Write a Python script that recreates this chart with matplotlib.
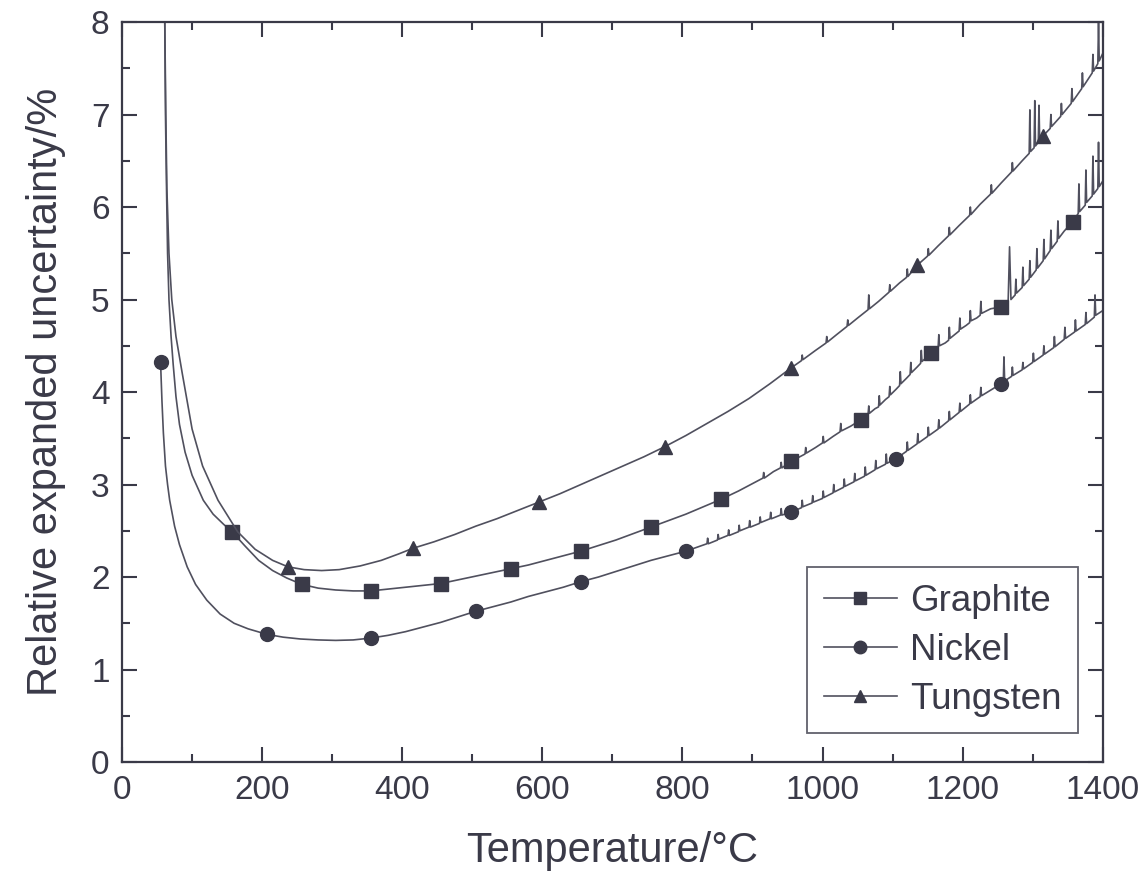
import matplotlib
matplotlib.use("Agg")
import matplotlib.pyplot as plt
from matplotlib.lines import Line2D
from matplotlib.ticker import MultipleLocator

# temperature (degC) and relative expanded uncertainty (%)
graphite_t = [61, 62, 63.5, 65, 67, 70, 73, 77, 82, 90, 100, 116, 130, 145, 157, 175, 195, 215, 235,
              257, 280, 305, 330, 355, 380, 405, 430, 455, 480, 505, 530, 555, 580, 605, 630, 655,
              680, 705, 730, 755, 780, 805, 830, 855, 880, 905, 915, 916, 917, 930, 940, 941, 942,
              955, 965, 975, 976, 977, 990, 1000, 1001, 1002, 1015, 1025, 1026, 1027, 1040, 1055,
              1065, 1066, 1067, 1075, 1080, 1081, 1082, 1090, 1095, 1096, 1097, 1105, 1110, 1111,
              1112, 1120, 1125, 1126, 1127, 1135, 1140, 1141, 1142, 1155, 1165, 1166, 1167, 1175,
              1180, 1181, 1182, 1190, 1195, 1196, 1197, 1205, 1210, 1211, 1212, 1220, 1225, 1226,
              1227, 1235, 1240, 1255, 1265, 1267, 1269, 1275, 1276, 1277, 1285, 1286, 1287, 1295,
              1296, 1297, 1305, 1306, 1307, 1315, 1316, 1317, 1325, 1326, 1327, 1335, 1336, 1337,
              1345, 1357, 1365, 1366, 1367, 1375, 1376, 1377, 1385, 1386, 1387, 1393, 1394, 1395,
              1400]
graphite_u = [8.0, 7.0, 6.2, 5.5, 5.0, 4.6, 4.3, 3.95, 3.65, 3.35, 3.1, 2.83, 2.68, 2.57, 2.49, 2.34,
              2.18, 2.07, 1.99, 1.92, 1.88, 1.86, 1.85, 1.85, 1.87, 1.89, 1.91, 1.93, 1.97, 2.01,
              2.05, 2.09, 2.13, 2.18, 2.23, 2.28, 2.34, 2.40, 2.47, 2.54, 2.61, 2.68, 2.76, 2.84,
              2.93, 3.03, 3.07, 3.13, 3.07, 3.14, 3.18, 3.24, 3.18, 3.25, 3.29, 3.33, 3.40, 3.34,
              3.40, 3.45, 3.52, 3.45, 3.52, 3.57, 3.66, 3.58, 3.63, 3.70, 3.76, 3.85, 3.77, 3.82,
              3.84, 3.96, 3.86, 3.92, 3.95, 4.06, 3.97, 4.03, 4.07, 4.22, 4.09, 4.15, 4.19, 4.32,
              4.21, 4.27, 4.31, 4.45, 4.33, 4.42, 4.48, 4.62, 4.50, 4.53, 4.56, 4.70, 4.58, 4.63,
              4.66, 4.80, 4.68, 4.72, 4.75, 4.88, 4.77, 4.80, 4.83, 4.98, 4.85, 4.88, 4.90, 4.92,
              4.98, 5.57, 5.00, 5.05, 5.22, 5.07, 5.13, 5.35, 5.15, 5.22, 5.42, 5.24, 5.32, 5.55,
              5.34, 5.42, 5.65, 5.44, 5.53, 5.75, 5.55, 5.63, 5.85, 5.66, 5.74, 5.84, 5.93, 6.25,
              5.95, 6.02, 6.40, 6.05, 6.12, 6.55, 6.14, 6.20, 6.70, 6.22, 6.28]
graphite_marks = [157, 257, 355, 455, 555, 655, 755, 855, 955, 1055, 1155, 1255, 1357]

nickel_t = [55, 57, 59, 62, 65, 68, 75, 82, 93, 105, 121, 140, 160, 180, 207, 230, 255, 280, 305,
            330, 355, 380, 405, 430, 455, 480, 505, 530, 555, 580, 605, 630, 655, 680, 705, 730,
            755, 780, 805, 820, 835, 836, 837, 850, 851, 852, 865, 866, 867, 880, 881, 882, 895,
            896, 897, 910, 911, 912, 925, 926, 927, 940, 941, 942, 955, 970, 971, 972, 985, 986,
            987, 1000, 1001, 1002, 1015, 1016, 1017, 1030, 1031, 1032, 1045, 1046, 1047, 1060,
            1061, 1062, 1075, 1076, 1077, 1090, 1091, 1092, 1105, 1120, 1121, 1122, 1135, 1136,
            1137, 1150, 1151, 1152, 1165, 1166, 1167, 1180, 1181, 1182, 1195, 1196, 1197, 1210,
            1211, 1212, 1225, 1226, 1227, 1240, 1255, 1258, 1259, 1260, 1270, 1271, 1272, 1285,
            1286, 1287, 1300, 1301, 1302, 1315, 1316, 1317, 1330, 1331, 1332, 1345, 1346, 1347,
            1360, 1361, 1362, 1375, 1376, 1377, 1388, 1389, 1390, 1400]
nickel_u = [4.32, 3.9, 3.56, 3.2, 3.0, 2.83, 2.55, 2.35, 2.11, 1.92, 1.75, 1.60, 1.50, 1.44, 1.38,
            1.35, 1.33, 1.32, 1.315, 1.32, 1.34, 1.37, 1.41, 1.46, 1.51, 1.57, 1.63, 1.68, 1.73,
            1.79, 1.84, 1.89, 1.95, 2.00, 2.06, 2.12, 2.18, 2.23, 2.28, 2.32, 2.36, 2.42, 2.36,
            2.40, 2.46, 2.41, 2.45, 2.51, 2.45, 2.49, 2.56, 2.50, 2.54, 2.61, 2.54, 2.58, 2.65,
            2.59, 2.63, 2.70, 2.63, 2.67, 2.74, 2.67, 2.70, 2.75, 2.83, 2.76, 2.80, 2.88, 2.81,
            2.85, 2.93, 2.86, 2.91, 3.00, 2.92, 2.97, 3.06, 2.98, 3.03, 3.12, 3.04, 3.09, 3.19,
            3.10, 3.16, 3.26, 3.17, 3.22, 3.33, 3.23, 3.28, 3.36, 3.46, 3.37, 3.44, 3.55, 3.45,
            3.52, 3.62, 3.53, 3.60, 3.70, 3.61, 3.69, 3.79, 3.70, 3.78, 3.88, 3.79, 3.87, 3.97,
            3.88, 3.95, 4.05, 3.96, 4.02, 4.09, 4.10, 4.38, 4.12, 4.17, 4.27, 4.18, 4.24, 4.32,
            4.25, 4.32, 4.42, 4.33, 4.40, 4.50, 4.41, 4.48, 4.60, 4.49, 4.57, 4.70, 4.58, 4.65,
            4.78, 4.66, 4.73, 4.86, 4.74, 4.81, 5.05, 4.83, 4.88]
nickel_marks = [55, 207, 355, 505, 655, 805, 955, 1105, 1255]

tungsten_t = [61, 62.5, 64, 67, 71, 77, 86, 100, 115, 137, 165, 190, 215, 237, 260, 285, 310, 340,
              370, 395, 415, 445, 475, 505, 535, 565, 595, 625, 655, 685, 715, 745, 775, 805, 835,
              865, 895, 925, 955, 970, 971, 972, 990, 1005, 1006, 1007, 1020, 1035, 1036, 1037,
              1050, 1065, 1066, 1067, 1080, 1095, 1096, 1097, 1110, 1120, 1121, 1122, 1135, 1150,
              1151, 1152, 1165, 1180, 1181, 1182, 1195, 1210, 1211, 1212, 1225, 1240, 1241, 1242,
              1255, 1270, 1271, 1272, 1285, 1295, 1296, 1297, 1302, 1303, 1304, 1308, 1309, 1310,
              1315, 1325, 1326, 1327, 1340, 1341, 1342, 1355, 1356, 1357, 1370, 1371, 1372, 1385,
              1386, 1387, 1393, 1394, 1395, 1400]
tungsten_u = [8.0, 7.0, 6.2, 5.5, 5.0, 4.6, 4.2, 3.6, 3.2, 2.83, 2.49, 2.30, 2.18, 2.11, 2.08, 2.07,
              2.08, 2.12, 2.18, 2.25, 2.31, 2.38, 2.46, 2.55, 2.63, 2.72, 2.81, 2.90, 3.00, 3.10,
              3.20, 3.30, 3.41, 3.53, 3.66, 3.79, 3.93, 4.09, 4.26, 4.34, 4.40, 4.35, 4.45, 4.53,
              4.60, 4.54, 4.62, 4.71, 4.78, 4.72, 4.80, 4.89, 5.05, 4.90, 4.98, 5.08, 5.16, 5.09,
              5.18, 5.24, 5.33, 5.25, 5.37, 5.47, 5.55, 5.48, 5.58, 5.69, 5.78, 5.70, 5.80, 5.91,
              6.00, 5.92, 6.03, 6.14, 6.24, 6.15, 6.26, 6.38, 6.48, 6.39, 6.50, 6.58, 7.05, 6.60,
              6.64, 7.15, 6.66, 6.70, 7.10, 6.72, 6.77, 6.85, 7.00, 6.87, 6.98, 7.12, 7.00, 7.12,
              7.28, 7.14, 7.28, 7.45, 7.30, 7.45, 7.65, 7.47, 7.55, 8.0, 7.58, 7.66]
tungsten_marks = [237, 415, 595, 775, 955, 1135, 1315]

INK = "#3a3a48"
LINE = "#50505e"

plt.rcParams["font.family"] = ["Liberation Sans", "DejaVu Sans"]

fig = plt.figure(figsize=(11.47, 8.74), dpi=100)
ax = fig.add_axes([0.1064, 0.1281, 0.855, 0.8467])

series = [
    ("Graphite", "s", graphite_t, graphite_u, graphite_marks),
    ("Nickel", "o", nickel_t, nickel_u, nickel_marks),
    ("Tungsten", "^", tungsten_t, tungsten_u, tungsten_marks),
]
handles = []
for name, mk, t, u, marks in series:
    idx = [t.index(m) for m in marks]
    ax.plot(t, u, color=LINE, lw=1.2, marker=mk, markevery=idx, markersize=10,
            markerfacecolor=INK, markeredgecolor=INK, clip_on=True)
    handles.append(Line2D([], [], color=LINE, lw=1.2, marker=mk, markersize=9,
                          markerfacecolor=INK, markeredgecolor=INK, label=name))

ax.set_xlim(0, 1400)
ax.set_ylim(0, 8)
ax.xaxis.set_major_locator(MultipleLocator(200))
ax.xaxis.set_minor_locator(MultipleLocator(100))
ax.yaxis.set_major_locator(MultipleLocator(1))
ax.yaxis.set_minor_locator(MultipleLocator(0.5))
ax.tick_params(which="both", direction="in", top=True, right=True, colors=INK,
               width=1.5, labelsize=24, labelcolor=INK, pad=9)
ax.tick_params(which="major", length=11)
ax.tick_params(which="minor", length=6)
for sp in ax.spines.values():
    sp.set_linewidth(1.6)
    sp.set_color(INK)

ax.set_xlabel("Temperature/\u00b0C", fontsize=30, color=INK, labelpad=18)
ax.set_ylabel("Relative expanded uncertainty/%", fontsize=30, color=INK, labelpad=18)

leg = ax.legend(handles=handles, loc="lower right", bbox_to_anchor=(0.975, 0.039),
                borderaxespad=0, fontsize=26.5, frameon=True, fancybox=False,
                handlelength=2.0, handletextpad=0.35, labelspacing=0.38, borderpad=0.45)
leg.get_frame().set_edgecolor(INK)
leg.get_frame().set_linewidth(1.3)
for txt in leg.get_texts():
    txt.set_color(INK)

fig.savefig("out.png", dpi=100)
